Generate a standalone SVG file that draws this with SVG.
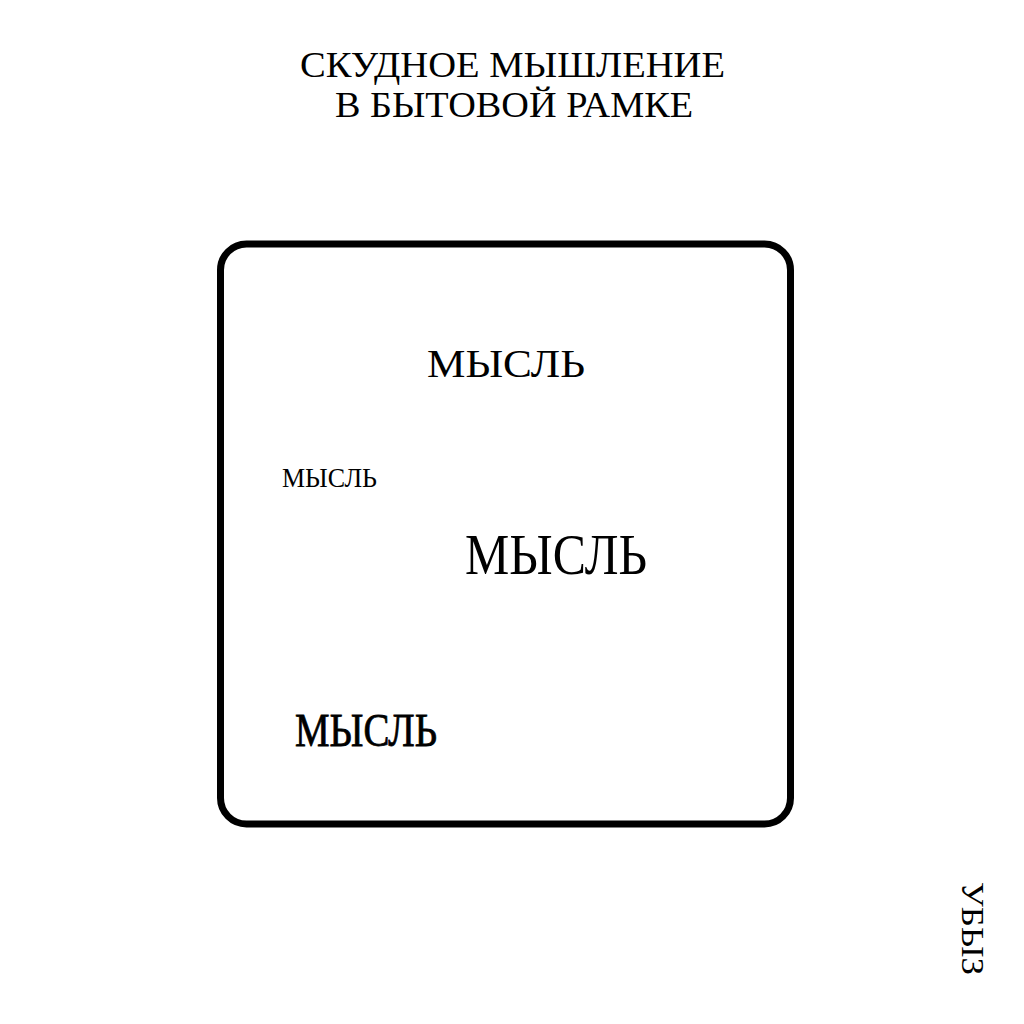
<svg xmlns="http://www.w3.org/2000/svg" width="1024" height="1024" viewBox="0 0 1024 1024">
<style>
text{font-family:"Liberation Serif","Times New Roman",serif;fill:#000}
.t{font-size:36px}
</style>
<rect width="1024" height="1024" fill="#fff"/>
<g id="title">
<text class="t" x="300" y="77" textLength="425" lengthAdjust="spacingAndGlyphs">СКУДНОЕ МЫШЛЕНИЕ</text>
<text class="t" x="335" y="117" textLength="358" lengthAdjust="spacingAndGlyphs">В БЫТОВОЙ РАМКЕ</text>
</g>
<g id="frame">
<rect x="220.5" y="244" width="570" height="580" rx="26" fill="none" stroke="#000" stroke-width="7"/>
</g>
<g id="thought1"><text x="427" y="377" font-size="41" textLength="158" lengthAdjust="spacingAndGlyphs">МЫСЛЬ</text></g>
<g id="thought2"><text x="282" y="487" font-size="28" textLength="95" lengthAdjust="spacingAndGlyphs">МЫСЛЬ</text></g>
<g id="thought3"><text x="465" y="574" font-size="57" textLength="182" lengthAdjust="spacingAndGlyphs">МЫСЛЬ</text></g>
<g id="thought4"><text x="295" y="746" font-size="46" textLength="142" lengthAdjust="spacingAndGlyphs" stroke="#000" stroke-width="0.8">МЫСЛЬ</text></g>
<g id="signature"><text transform="translate(962,882) rotate(90)" font-size="32" textLength="93" lengthAdjust="spacingAndGlyphs">УБЫЗ</text></g>
</svg>
